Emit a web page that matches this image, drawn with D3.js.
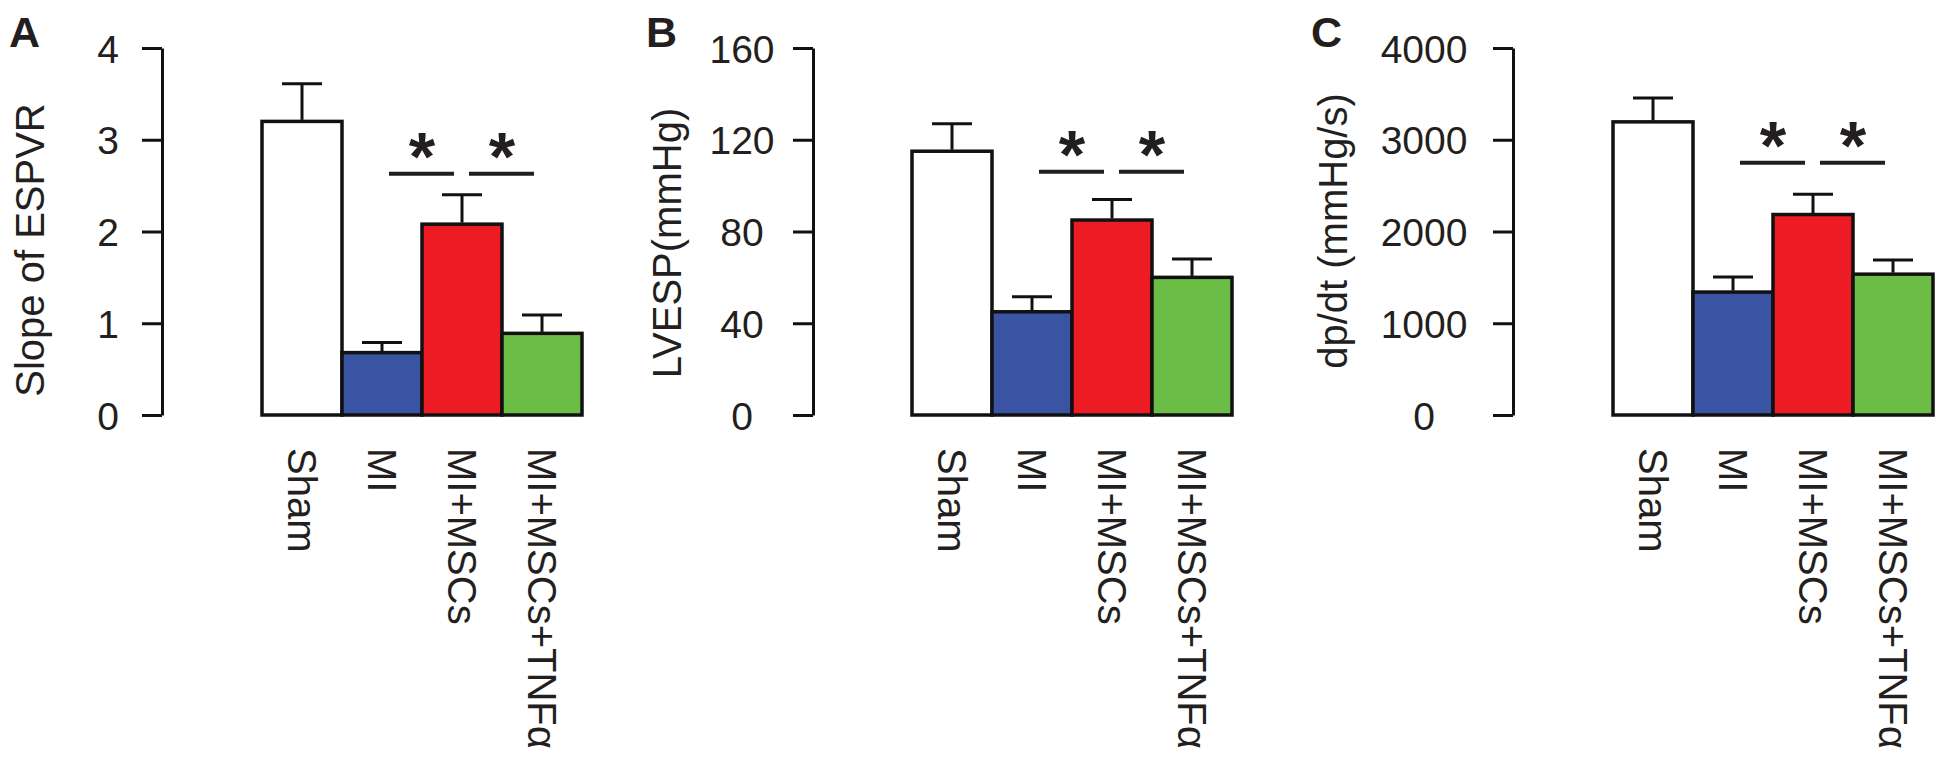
<!DOCTYPE html>
<html>
<head>
<meta charset="utf-8">
<script src="https://cdn.jsdelivr.net/npm/d3@7"></script>
<style>
  html, body { margin: 0; padding: 0; background: #fff; }
  svg { display: block; }
  text { font-family: "Liberation Sans", Arial, Helvetica, sans-serif; fill: #231f20; }
</style>
</head>
<body>
<svg id="chart" width="1943" height="766"></svg>
<script>
// ---- data ----
const categories = ["Sham", "MI", "MI+MSCs", "MI+MSCs+TNFα"];
const barColors = ["#ffffff", "#3a54a4", "#ed1c24", "#6cbd45"];

const espvrMean = [3.2, 0.68, 2.08, 0.89];
const espvrErr  = [0.41, 0.11, 0.32, 0.2];
const espvrTicks = [0, 1, 2, 3, 4];
const espvrSig = 2.63;

const lvespMean = [115, 45, 85, 60];
const lvespErr  = [12, 6.5, 9, 8];
const lvespTicks = [0, 40, 80, 120, 160];
const lvespSig = 106;

const dpdtMean = [3195, 1340, 2185, 1535];
const dpdtErr  = [260, 165, 220, 155];
const dpdtTicks = [0, 1000, 2000, 3000, 4000];
const dpdtSig = 2750;

const sigPairs = [[1, 2], [2, 3]];

// ---- layout ----
const panels = [
  { letter: "A", letterX: 9,    axisX: 162,  barX0: 262,  mean: espvrMean, err: espvrErr, ticks: espvrTicks,
    title: "Slope of ESPVR", titleX: 44, titleY: 250, tickOff: 54, sig: espvrSig },
  { letter: "B", letterX: 646,  axisX: 813,  barX0: 912,  mean: lvespMean, err: lvespErr, ticks: lvespTicks,
    title: "LVESP(mmHg)", titleX: 681, titleY: 243, tickOff: 71, sig: lvespSig },
  { letter: "C", letterX: 1311, axisX: 1513, barX0: 1613, mean: dpdtMean, err: dpdtErr, ticks: dpdtTicks,
    title: "dp/dt (mmHg/s)", titleX: 1347, titleY: 231, tickOff: 89, sig: dpdtSig }
];

const yTop = 48, yBottom = 415, barW = 80;
const svg = d3.select("#chart");

panels.forEach(p => {
  const g = svg.append("g");
  const y = d3.scaleLinear().domain([0, p.ticks[p.ticks.length - 1]]).range([yBottom, yTop]);
  const x = d3.scaleBand().domain(categories).range([p.barX0, p.barX0 + barW * categories.length]).padding(0);

  // axis
  const ax = g.append("g").attr("transform", `translate(${p.axisX},0)`)
    .call(d3.axisLeft(y).tickValues(p.ticks).tickSize(20).tickSizeOuter(0).tickFormat(d3.format("d")));
  ax.select(".domain").attr("stroke", "#111").attr("stroke-width", 3);
  ax.selectAll(".tick line").attr("stroke", "#111").attr("stroke-width", 3);
  ax.selectAll(".tick text")
    .attr("x", -p.tickOff).attr("dy", "0.36em")
    .attr("text-anchor", "middle")
    .style("font-size", "39px").style("fill", "#231f20");

  // bars
  g.selectAll("rect.bar").data(categories).enter().append("rect")
    .attr("class", "bar")
    .attr("x", d => x(d))
    .attr("width", x.bandwidth())
    .attr("y", (d, i) => y(p.mean[i]))
    .attr("height", (d, i) => y(0) - y(p.mean[i]))
    .attr("fill", (d, i) => barColors[i])
    .attr("stroke", "#111")
    .attr("stroke-width", 3.5);

  // error bars
  const eb = g.selectAll("g.err").data(categories).enter().append("g").attr("class", "err");
  eb.append("line")
    .attr("x1", d => x(d) + x.bandwidth() / 2).attr("x2", d => x(d) + x.bandwidth() / 2)
    .attr("y1", (d, i) => y(p.mean[i]) - 1.5).attr("y2", (d, i) => y(p.mean[i] + p.err[i]))
    .attr("stroke", "#111").attr("stroke-width", 3);
  eb.append("line")
    .attr("x1", d => x(d) + x.bandwidth() / 2 - 20).attr("x2", d => x(d) + x.bandwidth() / 2 + 20)
    .attr("y1", (d, i) => y(p.mean[i] + p.err[i])).attr("y2", (d, i) => y(p.mean[i] + p.err[i]))
    .attr("stroke", "#111").attr("stroke-width", 3);

  // significance lines & stars
  sigPairs.forEach(([a, b]) => {
    const cx = x(categories[b]);
    const sy = y(p.sig);
    g.append("line")
      .attr("x1", cx - 33).attr("x2", cx + 32)
      .attr("y1", sy).attr("y2", sy)
      .attr("stroke", "#231f20").attr("stroke-width", 4);
    g.append("text")
      .attr("x", cx).attr("y", sy - 32).attr("dy", "0.56em")
      .attr("text-anchor", "middle")
      .style("font-size", "68px").style("font-weight", "bold")
      .text("*");
  });

  // x labels (rotated)
  g.selectAll("text.xl").data(categories).enter().append("text")
    .attr("class", "xl")
    .attr("transform", d => `translate(${x(d) + x.bandwidth() / 2},448) rotate(90)`)
    .attr("dy", "0.35em")
    .attr("text-anchor", "start")
    .style("font-size", "40px")
    .text(d => d);

  // y title
  g.append("text")
    .attr("transform", `translate(${p.titleX},${p.titleY}) rotate(-90)`)
    .attr("text-anchor", "middle")
    .style("font-size", "40px")
    .text(p.title);

  // panel letter
  g.append("text")
    .attr("x", p.letterX).attr("y", 47)
    .style("font-size", "43px").style("font-weight", "bold")
    .text(p.letter);
});
</script>
</body>
</html>
